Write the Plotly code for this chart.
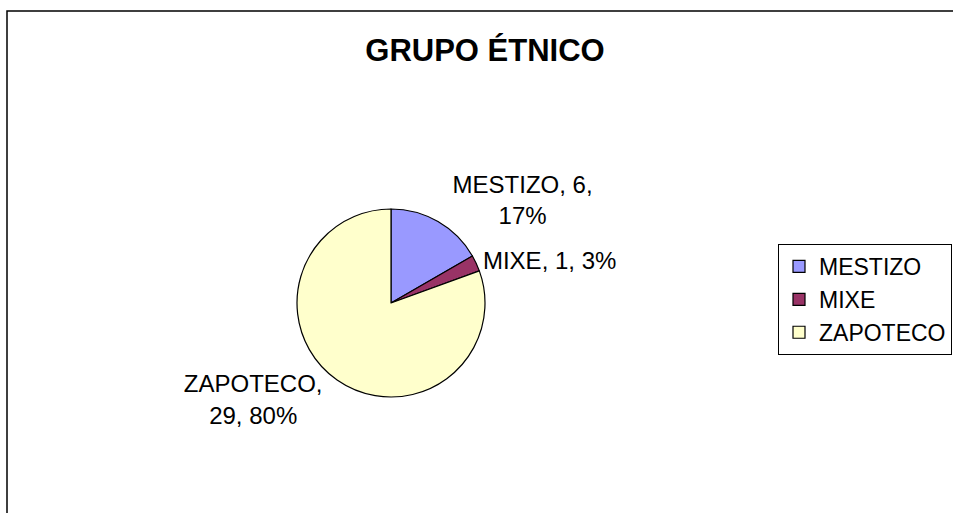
import plotly.graph_objects as go

categories = ["MESTIZO", "MIXE", "ZAPOTECO"]
values = [6, 1, 29]
pct_labels = ["17%", "3%", "80%"]
colors = ["#9999FF", "#993366", "#FFFFCC"]

templates = [
    "%{label}, %{value},<br>%{customdata}",
    "%{label}, %{value}, %{customdata}",
    "%{label},<br>%{value}, %{customdata}",
]

W, H = 953, 513
cx, cy, r = 391, 303, 94

fig = go.Figure(
    go.Pie(
        labels=categories,
        values=values,
        customdata=pct_labels,
        texttemplate=templates,
        textposition="outside",
        sort=False,
        direction="clockwise",
        rotation=0,
        marker=dict(colors=colors, line=dict(color="black", width=1.2)),
        outsidetextfont=dict(family="Liberation Sans, Arial", size=24, color="black"),
        domain=dict(x=[(cx - r) / W, (cx + r) / W], y=[(H - cy - r) / H, (H - cy + r) / H]),
        hoverinfo="label+value+percent",
    )
)

fig.update_layout(
    width=W,
    height=H,
    margin=dict(l=0, r=0, t=0, b=0),
    paper_bgcolor="white",
    plot_bgcolor="white",
    title=dict(
        text="<b>GRUPO ÉTNICO</b>",
        x=485 / W,
        xanchor="center",
        y=1 - 50 / H,
        yanchor="middle",
        font=dict(family="Liberation Sans, Arial", size=31, color="black"),
    ),
    legend=dict(
        x=778 / W,
        xanchor="left",
        y=1 - 244 / H,
        yanchor="top",
        bordercolor="black",
        borderwidth=1,
        bgcolor="white",
        font=dict(family="Liberation Sans, Arial", size=23, color="black"),
    ),
    shapes=[
        dict(
            type="rect",
            xref="paper",
            yref="paper",
            x0=7 / W,
            x1=1.05,
            y0=-0.05,
            y1=1 - 11 / H,
            line=dict(color="black", width=1.5),
            layer="below",
        )
    ],
)

fig.write_html(
    "out.html",
    config={"displayModeBar": False},
    post_script="document.body.style.margin='0';document.body.style.overflow='hidden';",
)
